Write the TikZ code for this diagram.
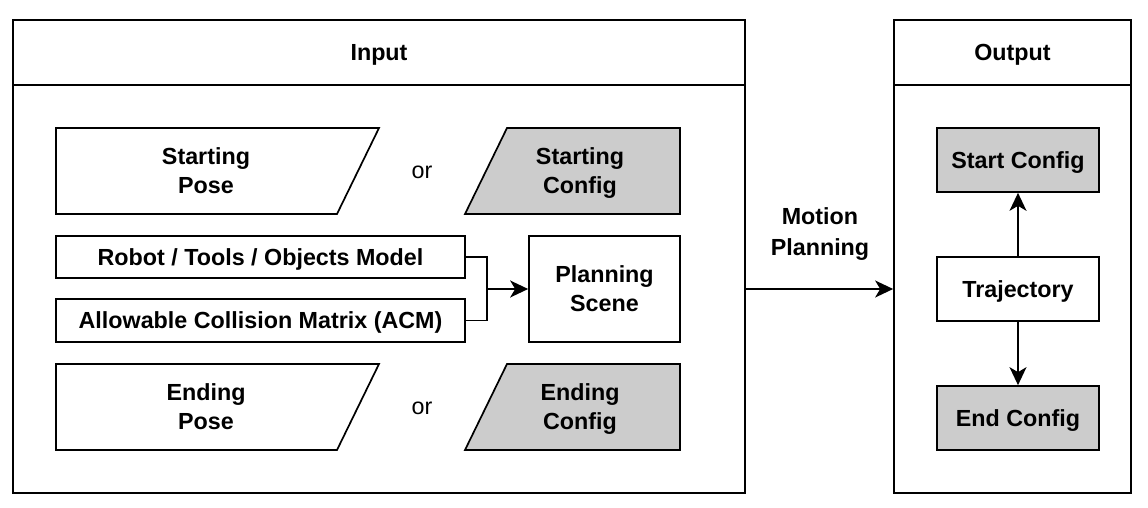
\documentclass[tikz,border=0pt]{standalone}
\usepackage{fontspec}
\setmainfont{Liberation Sans}
\usetikzlibrary{arrows.meta}
\definecolor{cfg}{HTML}{CCCCCC}
\begin{document}
\begin{tikzpicture}[x=1pt,y=-1pt,
  every node/.style={font=\fontsize{23.3}{29}\selectfont\bfseries, align=center, inner sep=0pt, text depth=0pt},
  box/.style={draw, line width=1.7pt, minimum width=#1},
  trap/.style={draw, line width=1.7pt, line join=miter},
  arr/.style={line width=1.7pt, -{Stealth[length=18pt,width=17pt,inset=5pt]}},
  conn/.style={line width=1.7pt},
  plain/.style={font=\fontsize{23.3}{29}\selectfont}]
\useasboundingbox (0,0) rectangle (1148,508);
% frames
\node[box=732pt, minimum height=473pt] (inbox) at (379,256.5) {};
\node[box=732pt, minimum height=65pt] (inhead) at (379,52.5) {Input};
\node[box=237pt, minimum height=473pt] (outbox) at (1012.5,256.5) {};
\node[box=237pt, minimum height=65pt] (outhead) at (1012.5,52.5) {Output};
% trapezoids
\draw[trap] (56,128) -- (379,128) -- (337,214) -- (56,214) -- cycle;
\node (sp) at (206,171) {Starting\\Pose};
\draw[trap, fill=cfg] (507,128) -- (680,128) -- (680,214) -- (465,214) -- cycle;
\node (sc) at (580,171) {Starting\\Config};
\node[plain] (or1) at (422,172) {or};
\draw[trap] (56,364) -- (379,364) -- (337,450) -- (56,450) -- cycle;
\node (ep) at (206,407) {Ending\\Pose};
\draw[trap, fill=cfg] (507,364) -- (680,364) -- (680,450) -- (465,450) -- cycle;
\node (ec) at (580,407) {Ending\\Config};
\node[plain] (or2) at (422,408) {or};
% model boxes
\node[box=409pt, minimum height=42pt] (robot) at (260.5,257) {Robot / Tools / Objects Model};
\node[box=409pt, minimum height=43pt] (acm) at (260.5,320.5) {Allowable Collision Matrix (ACM)};
\node[box=151pt, minimum height=106pt] (ps) at (604.5,289) {Planning\\Scene};
\coordinate (jn) at (487,289);
\draw[conn] (robot.east) -| (jn) |- (acm.east);
\draw[arr] (jn) -- (ps.west);
% motion planning
\draw[arr] (inbox.east |- ps.center) -- (outbox.west |- ps.center);
\node[font=\fontsize{23.3}{31}\selectfont\bfseries] (mp) at (820,231.5) {Motion\\Planning};
% output
\node[box=162pt, minimum height=64pt, fill=cfg] (stc) at (1018,160) {Start Config};
\node[box=162pt, minimum height=64pt] (traj) at (1018,289) {Trajectory};
\node[box=162pt, minimum height=64pt, fill=cfg] (enc) at (1018,418) {End Config};
\draw[arr] (traj.north) -- (stc.south);
\draw[arr] (traj.south) -- (enc.north);
\end{tikzpicture}
\end{document}
